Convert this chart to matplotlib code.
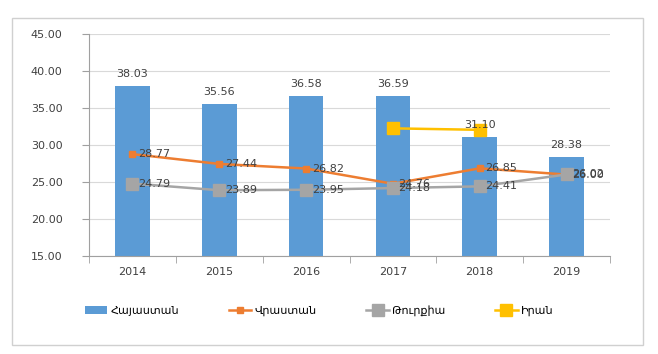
import matplotlib.pyplot as plt
from matplotlib.patches import Rectangle
import numpy as np

years = ["2014", "2015", "2016", "2017", "2018", "2019"]
armenia = [38.03, 35.56, 36.58, 36.59, 31.10, 28.38]
georgia = [28.77, 27.44, 26.82, 24.76, 26.85, 26.00]
turkey = [24.79, 23.89, 23.95, 24.18, 24.41, 26.02]
iran = [np.nan, np.nan, np.nan, 32.25, 32.05, np.nan]

names = ["Հայաստան", "Վրաստան", "Թուրքիա", "Իրան"]
colors = ["#5B9BD5", "#ED7D31", "#A5A5A5", "#FFC000"]

plt.rcParams["font.family"] = ["DejaVu Sans"]
plt.rcParams["font.size"] = 8

fig = plt.figure(figsize=(6.58, 3.54), dpi=100)
fig.patches.append(Rectangle((12 / 658, 1 - 345 / 354), 631 / 658, 327 / 354,
                             transform=fig.transFigure, fill=False,
                             edgecolor="#D0D0D0", linewidth=1))
ax = fig.add_axes([89 / 658, 1 - 256 / 354, 521 / 658, 222 / 354])

x = np.arange(len(years))
h0 = ax.bar(x, armenia, width=0.4, color=colors[0], label=names[0], zorder=2)
h1, = ax.plot(x, georgia, color=colors[1], marker="s", markersize=5, linewidth=1.8,
              label=names[1], zorder=3)
h2, = ax.plot(x, turkey, color=colors[2], marker="s", markersize=8, linewidth=1.8,
              label=names[2], zorder=3)
h3, = ax.plot(x, iran, color=colors[3], marker="s", markersize=8, linewidth=1.8,
              label=names[3], zorder=3)

for i, v in enumerate(armenia):
    ax.annotate(f"{v:.2f}", (i, v), xytext=(0, 5), textcoords="offset points",
                ha="center", va="bottom", fontsize=8, color="#404040")
for series in (georgia, turkey):
    for i, v in enumerate(series):
        ax.annotate(f"{v:.2f}", (i, v), xytext=(4, 0), textcoords="offset points",
                    ha="left", va="center", fontsize=8, color="#404040", zorder=4)

ax.set_xlim(-0.5, len(years) - 0.5)
ax.set_ylim(15, 45)
ax.set_yticks(np.arange(15, 46, 5))
ax.set_yticklabels([f"{t:.2f}" for t in np.arange(15, 46, 5)], color="#404040")
ax.set_xticks(x)
ax.set_xticklabels(years, color="#404040")
ax.set_xticks(np.arange(-0.5, len(years), 1), minor=True)
ax.tick_params(axis="x", which="major", length=0, pad=8)
ax.tick_params(axis="x", which="minor", length=5, color="#A0A0A0")
ax.tick_params(axis="y", length=5, color="#A0A0A0", pad=14)
ax.grid(axis="y", color="#D9D9D9", linewidth=0.8, zorder=0)
ax.set_axisbelow(True)
for s in ("top", "right"):
    ax.spines[s].set_visible(False)
for s in ("left", "bottom"):
    ax.spines[s].set_color("#A0A0A0")

fig.legend(handles=[h0, h1, h2, h3], labels=names, loc="center",
           bbox_to_anchor=(0.485, 1 - 311 / 354), ncol=4,
           frameon=False, handlelength=2.0, handletextpad=0.3,
           columnspacing=4.5, fontsize=8)

fig.savefig("out.png", dpi=100)
